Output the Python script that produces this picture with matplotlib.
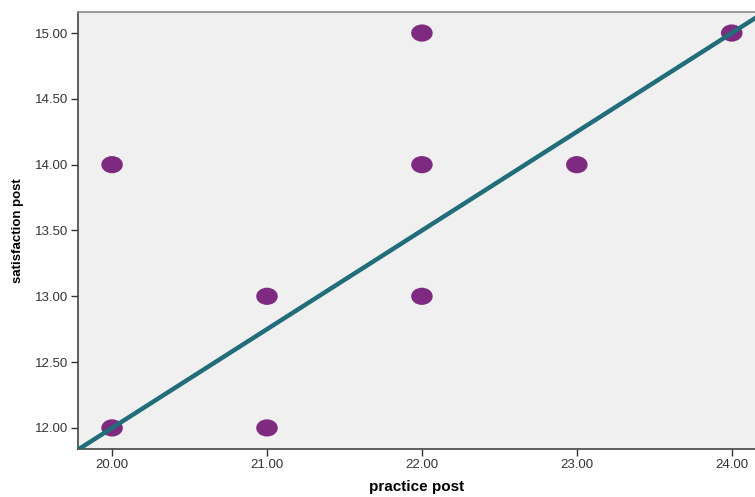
import numpy as np
import matplotlib.pyplot as plt
from matplotlib.path import Path

plt.rcParams['font.family'] = ['Liberation Sans', 'DejaVu Sans']

# data
practice_post = [20, 20, 21, 21, 22, 22, 22, 23, 24]
satisfaction_post = [14, 12, 13, 12, 15, 14, 13, 14, 15]
# fit line as drawn (intercept, slope)
fit_intercept = -3.0
fit_slope = 0.75

x_ticks = [20, 21, 22, 23, 24]
y_ticks = [12.0, 12.5, 13.0, 13.5, 14.0, 14.5, 15.0]

fig = plt.figure(figsize=(7.55, 4.97), dpi=100)
ax = fig.add_axes([0.1033, 0.0966, 0.8967, 0.8793])
ax.set_facecolor('#f0f0f0')

# flattened ellipse marker
circ = Path.unit_circle()
ell = Path(circ.vertices * np.array([1.0, 0.8]), circ.codes)
ax.scatter(practice_post, satisfaction_post, marker=ell, s=240,
           color='#7d2a80', edgecolors='none', zorder=2)

# fit line
xl = np.array([19.78, 24.15])
ax.plot(xl, fit_intercept + fit_slope * xl, color='#216d79', lw=3.2, zorder=3)

ax.set_xlim(19.78, 24.15)
ax.set_ylim(11.84, 15.16)
ax.set_xticks(x_ticks)
ax.set_xticklabels(['%.2f' % v for v in x_ticks])
ax.set_yticks(y_ticks)
ax.set_yticklabels(['%.2f' % v for v in y_ticks])
ax.tick_params(direction='out', length=5, width=1, color='#333333',
               labelsize=9.5, labelcolor='#333333', pad=2)

ax.spines['right'].set_visible(False)
ax.spines['top'].set_color('#888888')
ax.spines['left'].set_color('#444444')
ax.spines['bottom'].set_color('#444444')
for s in ['top', 'left', 'bottom']:
    ax.spines[s].set_linewidth(1.2)

ax.set_xlabel('practice post', fontsize=11, fontweight='bold', labelpad=7)
ax.set_ylabel('satisfaction post', fontsize=9.5, fontweight='bold', labelpad=8)

fig.savefig('out.png', dpi=100)
